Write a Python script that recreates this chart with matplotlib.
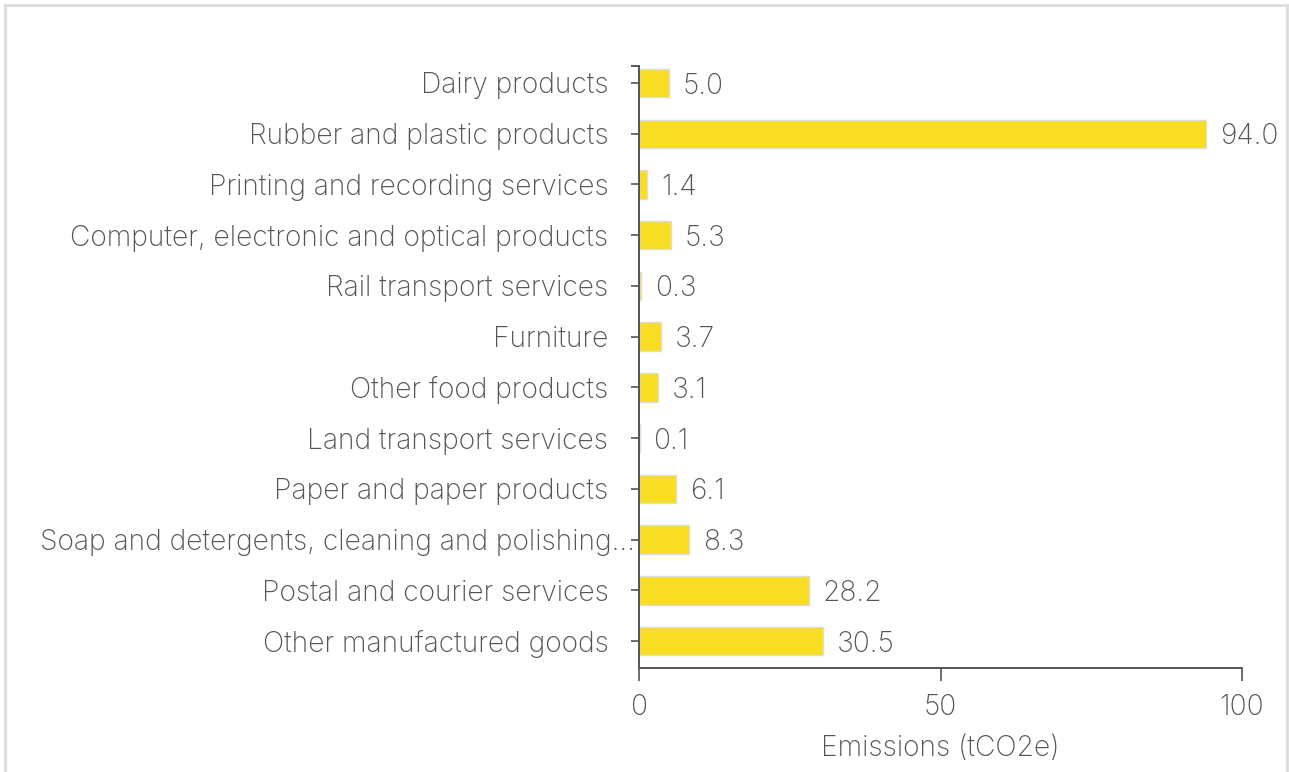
import matplotlib
matplotlib.use("Agg")
import matplotlib.pyplot as plt
from matplotlib.lines import Line2D
from matplotlib.transforms import ScaledTranslation

categories = [
    "Dairy products",
    "Rubber and plastic products",
    "Printing and recording services",
    "Computer, electronic and optical products",
    "Rail transport services",
    "Furniture",
    "Other food products",
    "Land transport services",
    "Paper and paper products",
    "Soap and detergents, cleaning and polishing...",
    "Postal and courier services",
    "Other manufactured goods",
]
values = [5.0, 94.0, 1.4, 5.3, 0.3, 3.7, 3.1, 0.1, 6.1, 8.3, 28.2, 30.5]
xticks = [0, 50, 100]
xlabel = "Emissions (tCO2e)"

W, H = 1289, 772
plt.rcParams['font.family'] = ['Inter', 'DejaVu Sans']
fig = plt.figure(figsize=(W / 100, H / 100), dpi=100)
text_color = "#555555"
axis_color = "#555555"
weight = "light"

# fit font size so that a label has the reference width
renderer = fig.canvas.get_renderer()
probe = fig.text(0, 0, categories[11], fontsize=10, fontweight=weight)
wpx = probe.get_window_extent(renderer).width
probe.remove()
fs = 10 * 348 / wpx

x0, x1 = 639, 1242
y_top, y_bot = 66, 668
ax = fig.add_axes([x0 / W, 1 - y_bot / H, (x1 - x0) / W, (y_bot - y_top) / H])

ypos = list(range(len(categories)))
ax.barh(ypos, values, height=0.56, color="#F8DD22", edgecolor="#dddddd", linewidth=1.0)
ax.set_xlim(0, 100)
ax.set_ylim(len(categories) - 1 + 0.53, -0.335)

for y, v in zip(ypos, values):
    ax.text(v + 2.3, y + 0.06, f"{v:.1f}", va="center", ha="left", fontsize=fs,
            color=text_color, fontweight=weight)

ax.set_yticks(ypos)
ax.set_yticklabels(categories, fontsize=fs, color=text_color, fontweight=weight)
ax.set_xticks(xticks)
ax.set_xticklabels([str(t) for t in xticks], fontsize=fs, color=text_color, fontweight=weight)
ax.tick_params(axis="y", length=6, width=1.2, color=axis_color, pad=16)
ax.tick_params(axis="x", length=9, width=1.2, color=axis_color, pad=10)
for s in ["top", "right"]:
    ax.spines[s].set_visible(False)
for s in ["left", "bottom"]:
    ax.spines[s].set_color(axis_color)
    ax.spines[s].set_linewidth(1.4)
ax.set_xlabel(xlabel, fontsize=fs, color=text_color, fontweight=weight, labelpad=10)

# the truncated label sits closer to the axis in the reference
lab = ax.get_yticklabels()[9]
lab.set_transform(lab.get_transform() + ScaledTranslation(26 / 100, 0, fig.dpi_scale_trans))

# outer tick cap at top of y-axis
ax.plot([-0.012, 0], [1, 1], transform=ax.transAxes, color=axis_color, lw=1.4, clip_on=False)

# light frame around the figure
frame_c = "#dddddd"
fig.add_artist(Line2D([5 / W, 5 / W], [0, 1 - 5 / H], transform=fig.transFigure, color=frame_c, lw=2))
fig.add_artist(Line2D([5 / W, 1287 / W], [1 - 5 / H, 1 - 5 / H], transform=fig.transFigure, color=frame_c, lw=2))
fig.add_artist(Line2D([1287 / W, 1287 / W], [0, 1 - 5 / H], transform=fig.transFigure, color=frame_c, lw=2))

fig.savefig("out.png", dpi=100, facecolor="white")
